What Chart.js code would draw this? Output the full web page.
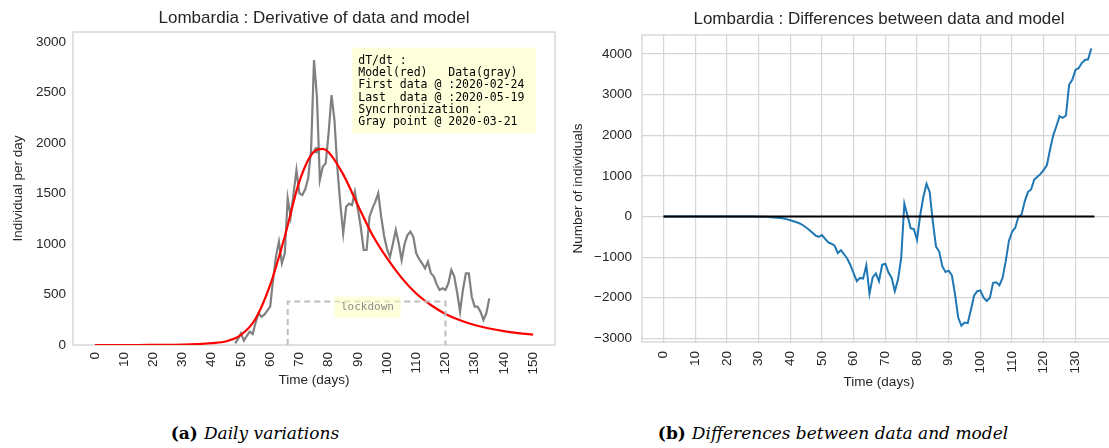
<!DOCTYPE html>
<html>
<head>
<meta charset="utf-8">
<script src="https://cdn.jsdelivr.net/npm/chart.js@4.4.1/dist/chart.umd.min.js"></script>
<style>
  html, body { margin: 0; padding: 0; background: #fff; overflow: hidden; }
  body { width: 1109px; height: 448px; position: relative; }
  #leftBox { position: absolute; left: 0; top: 0; width: 560px; height: 400px; }
  #rightBox { position: absolute; left: 560px; top: 0; width: 560px; height: 400px; }
  .caption { position: absolute; top: 423px; font-family: "DejaVu Serif", serif; font-size: 17px;
             color: #000; white-space: nowrap; transform: translateX(-50%); }
  .caption b { font-weight: bold; margin-right: 6px; }
</style>
</head>
<body>
<div id="leftBox"><canvas id="derivChart" width="560" height="400"></canvas></div>
<div id="rightBox"><canvas id="diffChart" width="560" height="400"></canvas></div>
<div class="caption" style="left:255px"><b>(a)</b><i>Daily variations</i></div>
<div class="caption" style="left:833px"><b>(b)</b><i>Differences between data and model</i></div>

<script>
// daily data (gray), days since start of the time axis
const grayDays = [48, 49, 50, 51, 52, 53, 54, 55, 56, 57, 58, 59, 60, 61, 62, 63, 64, 65, 66, 67,
    68, 69, 70, 71, 72, 73, 74, 75, 76, 77, 78, 79, 80, 81, 82, 83, 84, 85, 86, 87,
    88, 89, 90, 91, 92, 93, 94, 95, 96, 97, 98, 99, 100, 101, 102, 103, 104, 105, 106, 107,
    108, 109, 110, 111, 112, 113, 114, 115, 116, 117, 118, 119, 120, 121, 122, 123, 124, 125, 126, 127,
    128, 129, 130, 131, 132, 133, 134, 135];
const grayValues = [17, 60, 116, 43, 90, 132, 109, 220, 314, 280, 300, 340, 380, 650, 880, 1023, 809, 908, 1452, 1270,
    1500, 1733, 1502, 1485, 1542, 1650, 1931, 2822, 2458, 1634, 1765, 1799, 2100, 2475, 2228, 1750, 1400, 1106, 1369, 1400,
    1386, 1518, 1350, 1171, 941, 941, 1271, 1353, 1420, 1502, 1271, 1080, 950, 874, 1000, 1139, 1007, 842, 1000, 1089,
    1122, 1072, 908, 850, 809, 759, 825, 710, 680, 600, 545, 561, 545, 611, 743, 680, 520, 330, 550, 710,
    710, 478, 380, 380, 330, 248, 314, 462];

// model derivative (red)
const modelDays = [0, 5, 10, 15, 20, 25, 30, 35, 40, 45, 50, 55, 60, 65, 70, 75, 78, 80, 85, 90,
    95, 100, 105, 110, 115, 120, 125, 130, 135, 140, 145, 150];
const modelValues = [0, 0, 0, 0, 1, 2, 4, 9, 18, 37, 100, 260, 595, 1075, 1620, 1915, 1942, 1910, 1690, 1385,
    1090, 860, 665, 510, 396, 308, 245, 198, 163, 137, 118, 103];

// synchronisation point and lockdown period
const syncDay = [76];
const syncValue = [1930];
const lockdownDays = [66, 120];
const lockdownLevel = [430];

// data minus model (blue)
const diffDays = [0, 5, 10, 15, 20, 25, 28, 30, 32, 34, 36, 37, 38, 39, 40, 41, 42, 43, 44, 45,
    46, 47, 48, 49, 50, 51, 52, 53, 54, 55, 56, 57, 58, 59, 60, 61, 62, 63, 64, 65,
    66, 67, 68, 69, 70, 71, 72, 73, 74, 75, 76, 77, 78, 79, 80, 81, 82, 83, 84, 85,
    86, 87, 88, 89, 90, 91, 92, 93, 94, 95, 96, 97, 98, 99, 100, 101, 102, 103, 104, 105,
    106, 107, 108, 109, 110, 111, 112, 113, 114, 115, 116, 117, 118, 119, 120, 121, 122, 123, 124, 125,
    126, 127, 128, 129, 130, 131, 132, 133, 134, 135];
const diffValues = [0, 0, 0, 0, 0, -1, -2, -4, -8, -15, -28, -35, -50, -70, -90, -115, -140, -171, -215, -270,
    -330, -400, -470, -500, -455, -550, -640, -670, -720, -900, -830, -930, -1040, -1200, -1400, -1593, -1512, -1528, -1203, -1902,
    -1500, -1400, -1593, -1187, -1163, -1380, -1512, -1837, -1553, -1024, 317, 20, -290, -309, -577, 32, 480, 805, 602, -130,
    -740, -862, -1228, -1366, -1333, -1447, -1919, -2488, -2691, -2610, -2626, -2300, -1950, -1840, -1821, -2000, -2081, -2000, -1634, -1618,
    -1691, -1512, -1100, -600, -374, -276, -8, 49, 374, 602, 667, 910, 980, 1050, 1150, 1268, 1658, 2000, 2228, 2471,
    2431, 2488, 3244, 3366, 3610, 3651, 3780, 3854, 3871, 4139];
const zeroLineDays = [0, 136];

const leftXTicks = [0, 10, 20, 30, 40, 50, 60, 70, 80, 90, 100, 110, 120, 130, 140, 150];
const leftYTicks = [0, 500, 1000, 1500, 2000, 2500, 3000];
const rightXTicks = [0, 10, 20, 30, 40, 50, 60, 70, 80, 90, 100, 110, 120, 130];
const rightYTicks = [-3000, -2000, -1000, 0, 1000, 2000, 3000, 4000];

const infoLines = ["dT/dt :", "Model(red)   Data(gray)", "First data @ :2020-02-24",
    "Last  data @ :2020-05-19", "Syncrhronization :", "Gray point @ 2020-03-21"];

const pts = (xs, ys) => xs.map((d, i) => ({ x: d, y: ys[i] }));

Chart.defaults.font.family = "'Liberation Sans', Arial, sans-serif";
Chart.defaults.color = "#262626";
Chart.defaults.animation = false;

// frame around the plot area
const frameBox = {
    id: "frameBox",
    beforeDatasetsDraw(chart, args, opts) {
        const { ctx, chartArea: a } = chart;
        ctx.save();
        ctx.strokeStyle = opts.color;
        ctx.lineWidth = 1.2;
        ctx.strokeRect(a.left, a.top, a.right - a.left, a.bottom - a.top);
        ctx.restore();
    }
};

// title centred over the plot area, like matplotlib
const axesTitle = {
    id: "axesTitle",
    afterDraw(chart, args, opts) {
        const { ctx, chartArea: a } = chart;
        ctx.save();
        ctx.fillStyle = "#262626";
        ctx.font = opts.size + "px 'Liberation Sans', Arial, sans-serif";
        ctx.textAlign = "center";
        ctx.textBaseline = "middle";
        ctx.fillText(opts.text, (a.left + a.right) / 2, opts.y);
        ctx.restore();
    }
};

// text boxes of the left chart
const notes = {
    id: "notes",
    afterDatasetsDraw(chart) {
        const { ctx, scales: { x, y } } = chart;
        ctx.save();
        // lockdown label
        const lx = x.getPixelForValue(93.3), ly = y.getPixelForValue(376);
        ctx.fillStyle = "rgba(255,255,190,0.55)";
        ctx.fillRect(lx - 33, ly - 10.5, 66, 21.5);
        ctx.fillStyle = "#8c8c8c";
        ctx.font = "11px 'DejaVu Sans Mono', monospace";
        ctx.textAlign = "center";
        ctx.textBaseline = "middle";
        ctx.fillText("lockdown", lx, ly);
        // info box
        const bx = x.getPixelForValue(88.1), by = y.getPixelForValue(2945);
        ctx.fillStyle = "rgba(255,255,190,0.55)";
        ctx.fillRect(bx, by, 184, 85.5);
        ctx.fillStyle = "#000";
        ctx.font = "11.5px 'DejaVu Sans Mono', monospace";
        ctx.textAlign = "left";
        infoLines.forEach((t, i) => ctx.fillText(t, bx + 6, by + 13 + i * 12.35));
        ctx.restore();
    }
};

const pickTicks = list => scale => { scale.ticks = list.map(v => ({ value: v })); };
const plainNum = v => String(v).replace("-", "\u2212");

// Derivative chart
new Chart(document.getElementById("derivChart"), {
    type: "line",
    data: {
        datasets: [{
            label: "Lockdown",
            data: [{ x: lockdownDays[0], y: 0 }, { x: lockdownDays[0], y: lockdownLevel[0] },
                   { x: lockdownDays[1], y: lockdownLevel[0] }, { x: lockdownDays[1], y: 0 }],
            borderColor: "#bdbdbd",
            borderWidth: 2,
            borderDash: [6, 4],
            pointRadius: 0,
            tension: 0
        }, {
            label: "Model",
            data: pts(modelDays, modelValues),
            borderColor: "#ff0000",
            borderWidth: 2.2,
            pointRadius: 0,
            cubicInterpolationMode: "monotone"
        }, {
            label: "Data",
            data: pts(grayDays, grayValues),
            borderColor: "#808080",
            borderWidth: 2.2,
            pointRadius: 0,
            tension: 0
        }, {
            label: "Sync",
            data: pts(syncDay, syncValue),
            showLine: false,
            pointRadius: 3.2,
            pointBackgroundColor: "#808080",
            pointBorderWidth: 0
        }]
    },
    options: {
        responsive: false,
        layout: { padding: { top: 32, right: 5 } },
        plugins: {
            legend: { display: false },
            tooltip: { enabled: false },
            title: { display: false },
            axesTitle: { text: "Lombardia : Derivative of data and model", size: 17, y: 18 },
            frameBox: { color: "#cccccc" }
        },
        scales: {
            x: {
                type: "linear",
                min: -7.5,
                max: 157.5,
                afterBuildTicks: pickTicks(leftXTicks),
                afterFit(scale) { scale.height = 55; scale.paddingLeft = 0; scale.paddingRight = 0; },
                grid: { display: false, drawTicks: false },
                border: { display: false },
                ticks: { minRotation: 90, maxRotation: 90, padding: 7, font: { size: 13.5 }, autoSkip: false,
                         callback: plainNum },
                title: { display: true, text: "Time (days)", font: { size: 13.5 }, padding: { top: 0, bottom: 12 } }
            },
            y: {
                min: 0,
                max: 3100,
                afterBuildTicks: pickTicks(leftYTicks),
                afterFit(scale) { scale.width = 73; },
                grid: { display: false, drawTicks: false },
                border: { display: false },
                ticks: { padding: 7, font: { size: 13.5 }, callback: plainNum },
                title: { display: true, text: "Individual per day", font: { size: 13.5 }, padding: { top: 10, bottom: 0 } }
            }
        }
    },
    plugins: [frameBox, notes, axesTitle]
});

// Differences chart
new Chart(document.getElementById("diffChart"), {
    type: "line",
    data: {
        datasets: [{
            label: "Zero",
            data: zeroLineDays.map(d => ({ x: d, y: 0 })),
            borderColor: "#000000",
            borderWidth: 2,
            pointRadius: 0
        }, {
            label: "Difference",
            data: pts(diffDays, diffValues),
            borderColor: "#1f77b4",
            borderWidth: 2,
            pointRadius: 0,
            tension: 0
        }]
    },
    options: {
        responsive: false,
        layout: { padding: { top: 35, right: 4 } },
        plugins: {
            legend: { display: false },
            tooltip: { enabled: false },
            title: { display: false },
            axesTitle: { text: "Lombardia : Differences between data and model", size: 17, y: 19 },
            frameBox: { color: "#d0d0d0" }
        },
        scales: {
            x: {
                type: "linear",
                min: -6.8,
                max: 142.8,
                afterBuildTicks: pickTicks(rightXTicks),
                afterFit(scale) { scale.height = 58; scale.paddingLeft = 0; scale.paddingRight = 0; },
                grid: { color: "#d6d6d6", lineWidth: 1.2, drawTicks: false },
                border: { display: false },
                ticks: { minRotation: 90, maxRotation: 90, padding: 9, font: { size: 13.5 }, autoSkip: false,
                         callback: plainNum },
                title: { display: true, text: "Time (days)", font: { size: 13.5 }, padding: { top: 0, bottom: 10 } }
            },
            y: {
                min: -3090,
                max: 4470,
                afterBuildTicks: pickTicks(rightYTicks),
                afterFit(scale) { scale.width = 82; },
                grid: { color: "#d6d6d6", lineWidth: 1.2, drawTicks: false },
                border: { display: false },
                ticks: { padding: 10, font: { size: 13.5 }, callback: plainNum },
                title: { display: true, text: "Number of individuals", font: { size: 13.5 }, padding: { top: 10, bottom: 0 } }
            }
        }
    },
    plugins: [frameBox, axesTitle]
});
</script>
</body>
</html>
